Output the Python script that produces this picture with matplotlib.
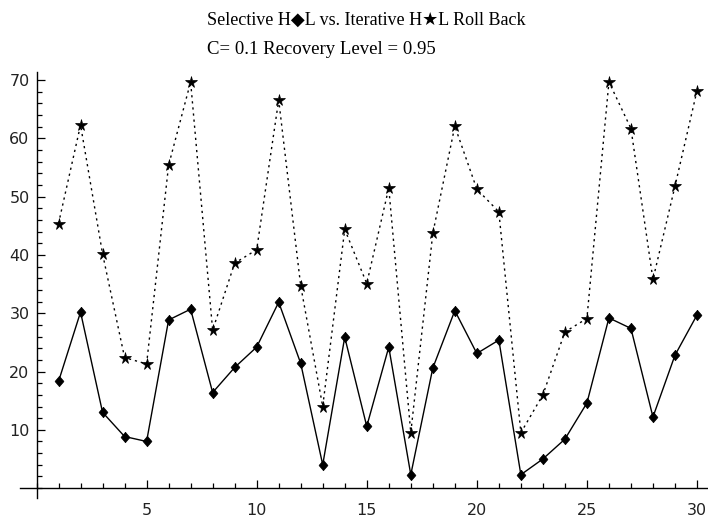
import matplotlib
matplotlib.use("Agg")
import matplotlib.pyplot as plt
from matplotlib.ticker import MultipleLocator

x = list(range(1, 31))
selective = [18.3, 30.2, 13.0, 8.85, 8.0, 28.85, 30.7, 16.4, 20.7, 24.2,
             31.9, 21.4, 4.0, 25.9, 10.6, 24.2, 2.3, 20.6, 30.45, 23.1,
             25.4, 2.3, 5.0, 8.4, 14.6, 29.2, 27.4, 12.2, 22.8, 29.7]
iterative = [45.4, 62.3, 40.2, 22.4, 21.3, 55.4, 69.7, 27.1, 38.6, 40.9,
             66.6, 34.7, 14.0, 44.4, 35.1, 51.5, 9.5, 43.7, 62.1, 51.3,
             47.4, 9.5, 16.0, 26.8, 29.1, 69.7, 61.7, 35.8, 51.8, 68.2]
title1 = "Selective H\u25c6L vs. Iterative H\u2605L Roll Back"
title2 = "C= 0.1 Recovery Level = 0.95"
xticks = [5, 10, 15, 20, 25, 30]
yticks = [10, 20, 30, 40, 50, 60, 70]

W, H = 708, 521
fig = plt.figure(figsize=(W / 100, H / 100), dpi=100)
ax = fig.add_axes([20 / W, 1 - 498 / H, (708 - 20) / W, (498 - 72) / H])

diamond = [(0, 1), (0.85, 0), (0, -1), (-0.85, 0), (0, 1)]
ax.plot(x, selective, color="black", lw=1.0, marker=diamond, markersize=7.5,
        markerfacecolor="black", markeredgecolor="black", markeredgewidth=0.5)
ax.plot(x, iterative, color="black", lw=1.0, linestyle=(0, (1.6, 2.8)), marker="*",
        markersize=8.5, markerfacecolor="black", markeredgecolor="black", markeredgewidth=0.5)

ax.set_xlim(-0.75, 30.5)
ax.set_ylim(-1.7, 71.4)
for s in ["top", "right"]:
    ax.spines[s].set_visible(False)
ax.spines["left"].set_position(("data", 0))
ax.spines["bottom"].set_position(("data", 0))
ax.spines["left"].set_linewidth(1.0)
ax.spines["bottom"].set_linewidth(1.0)

ax.set_xticks(xticks)
ax.set_yticks(yticks)
ax.xaxis.set_minor_locator(MultipleLocator(1))
ax.yaxis.set_minor_locator(MultipleLocator(2))
ax.tick_params(which="major", direction="in", length=6, width=0.9, labelsize=11.5, color="black")
ax.tick_params(which="minor", direction="in", length=3.5, width=0.9, color="black")
ax.tick_params(axis="x", which="major", pad=11)
ax.tick_params(axis="y", which="major", pad=5)
for lab in ax.get_xticklabels() + ax.get_yticklabels():
    lab.set_color("#222222")

fonts = ["Liberation Serif", "DejaVu Sans"]
fig.text(207 / W, 1 - 20 / H, title1, ha="left", va="center", fontsize=13, family=fonts)
fig.text(207 / W, 1 - 50 / H, title2, ha="left", va="center", fontsize=13.5, family=fonts)

fig.savefig("out.png", dpi=100)
